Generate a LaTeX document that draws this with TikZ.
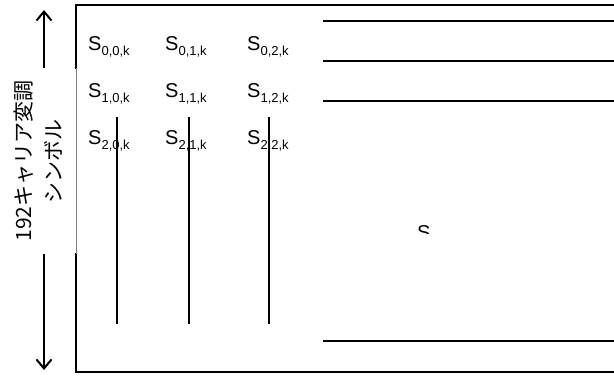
\documentclass[tikz,border=0pt]{standalone}
\usepackage{fontspec}
\setmainfont{Liberation Sans}
\newfontfamily\cjk{Noto Sans CJK JP}
\usetikzlibrary{arrows.meta}

\begin{document}
\begin{tikzpicture}[x=1pt,y=-1pt,
		frame/.style={line width=2pt,line cap=rect},
		grid/.style={line width=1.2pt,dash pattern=on 0.4pt off 0.4pt},
		axis/.style={line width=2pt,-{Straight Barb[length=9pt,width=15pt,line width=2pt]}},
		sym/.style={inner sep=0pt,anchor=base west,font=\fontsize{20}{22}\selectfont}]
		\useasboundingbox (0,0) rectangle (614,376);
		% frame
		\draw[frame] (76,68) -- (76,5) -- (614,5);
		\draw[frame] (76,254) -- (76,372) -- (614,372);
		\draw[gray,line width=0.8pt] (76,68) -- (76,254);
		% axis and label
		\coordinate (uptail) at (44,68);
		\coordinate (uphead) at (44,10);
		\coordinate (dntail) at (44,254);
		\coordinate (dnhead) at (44,370);
		\draw[axis] (uptail) -- (uphead);
		\draw[axis] (dntail) -- (dnhead);
		\node[rotate=90,align=center,inner sep=0pt,font=\cjk\fontsize{21}{30}\selectfont] (lbl) at (38,161) {192キャリア変調\\シンボル};
		% symbols
		\foreach \r/\y in {0/50,1/97,2/144}
			\foreach \c/\x in {0/88,1/165,2/247}
				\node[sym] (s\r\c) at (\x,\y) {S\raisebox{-5pt}{\fontsize{13}{13}\selectfont\r,\c,k}};
		% rows and columns
		\foreach \y/\n in {21/a,61/b,101/c,341/d} {
			\coordinate (h\n0) at (323,\y);
			\coordinate (h\n1) at (614,\y);
			\draw[grid] (h\n0) -- (h\n1);
		}
		\foreach \x/\n in {117/a,189/b,269/c} {
			\coordinate (v\n0) at (\x,117);
			\coordinate (v\n1) at (\x,324);
			\draw[grid] (v\n0) -- (v\n1);
		}
		% cut symbol
		\begin{scope}
			\clip (410,220) rectangle (440,233.5);
			\node[sym] (cut) at (417,239.5) {S};
		\end{scope}
	\end{tikzpicture}
\end{document}
